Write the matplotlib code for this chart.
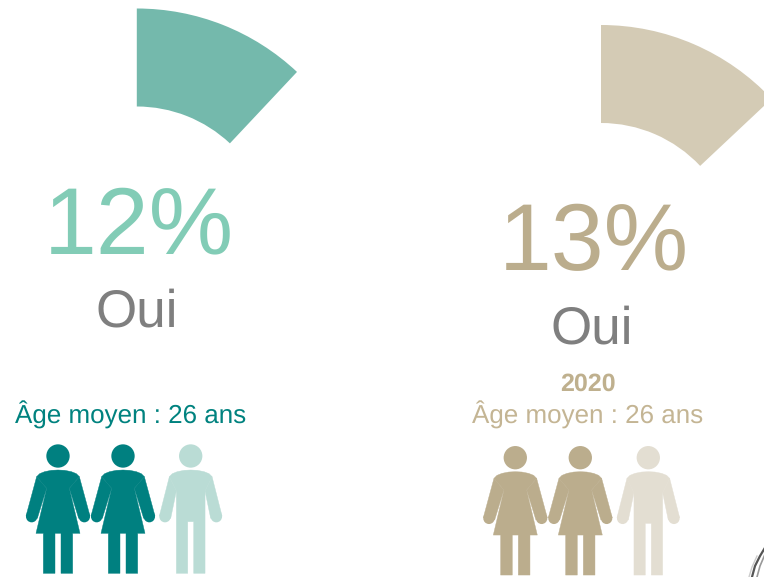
import matplotlib
matplotlib.use('Agg')
import matplotlib.pyplot as plt
from matplotlib.patches import Wedge, Circle, Polygon

plt.rcParams['font.family'] = ['Liberation Sans', 'DejaVu Sans']
plt.rcParams['text.hinting'] = 'none'
plt.rcParams['text.hinting_factor'] = 1

percents = [12, 13]
answers = ['Oui', 'Oui']
years = ['', '2020']
ages = [26, 26]
people = ['woman', 'woman', 'man']

wedge_colors = ['#74B9AC', '#D4CBB5']
pct_colors = ['#82CCB6', '#BBAD8D']
age_colors = ['#00827F', '#C4B594']
year_color = '#BFB08E'
dark_colors = ['#008080', '#BBAD8D']
light_colors = ['#BADCD5', '#E3DED2']
grey = '#7F7F7F'


def draw_person(ax, cx, cy, kind, color):
    # offsets are read in 3x zoom pixels from the head centre
    s = 1 / 3
    ax.add_patch(Circle((cx, cy), 35 * s, fc=color, ec='none'))
    shoulder = [(0, 42), (20, 43), (40, 47), (55, 53), (64, 62)]
    if kind == 'woman':
        half = shoulder + [(34, 97), (66, 232), (44, 232), (44, 352), (9, 352), (9, 232), (0, 232)]
        arm = [(64, 62), (96, 180), (62, 187), (34, 97)]
        hand = (79, 182)
    else:
        half = shoulder + [(43, 105), (43, 352), (9, 352), (9, 197), (0, 197)]
        arm = [(64, 62), (94, 180), (60, 187), (43, 105)]
        hand = (77, 182)
    pts = half + [(-x, y) for x, y in half[-2:0:-1]]
    # thin edge in the fill colour hides seams where the parts meet
    ax.add_patch(Polygon([(cx + x * s, cy + y * s) for x, y in pts], closed=True, fc=color, ec=color, lw=0.3))
    for sign in (-1, 1):
        ax.add_patch(Polygon([(cx + sign * x * s, cy + y * s) for x, y in arm], closed=True, fc=color, ec=color, lw=0.3))
        ax.add_patch(Circle((cx + sign * hand[0] * s, cy + hand[1] * s), 17 * s, fc=color, ec='none'))


def draw_panel(ax, i, wedge_x, wedge_y, text_x, text_dy, age_x, head_x, head_y):
    pct = percents[i]
    # inverted y axis, so angles run clockwise from the top at -90
    ax.add_patch(Wedge((wedge_x, wedge_y), 234, -90, -90 + pct * 3.6, width=98, fc=wedge_colors[i], ec='none'))
    ax.text(text_x, 253 + text_dy, f'{pct}%', fontsize=68.5, color=pct_colors[i], ha='center', va='baseline')
    ax.text(text_x - 2, 326 + text_dy, answers[i], fontsize=38, color=grey, ha='center', va='baseline')
    if years[i]:
        ax.text(age_x, 391, years[i], fontsize=18, color=year_color, weight='bold', ha='center', va='baseline')
    ax.text(age_x, 424, f'Âge moyen : {ages[i]} ans', fontsize=18.8, color=age_colors[i], ha='center', va='baseline')
    for hx, kind in zip(head_x, people):
        c = dark_colors[i] if kind == 'woman' else light_colors[i]
        draw_person(ax, hx, head_y, kind, c)


fig = plt.figure(figsize=(7.64, 5.77), dpi=100)
ax = fig.add_axes([0, 0, 1, 1])
ax.set_xlim(0, 764)
ax.set_ylim(577, 0)
ax.axis('off')

draw_panel(ax, 0, 136.8, 242.5, 139, 0, 131, [58, 123, 190.7], 456)
draw_panel(ax, 1, 601, 259, 594, 17, 588, [515.3, 580.3, 648.3], 457.7)

# edge of a photo cut off in the corner
ax.plot([752, 755, 760, 766], [577, 566, 556, 546], color='#555555', lw=1.6)
ax.plot([757, 760, 766], [577, 566, 552], color='#999999', lw=1.2)
ax.plot([749, 752, 757], [577, 567, 556], color='#cccccc', lw=1.0)

fig.savefig('out.png', dpi=100)
